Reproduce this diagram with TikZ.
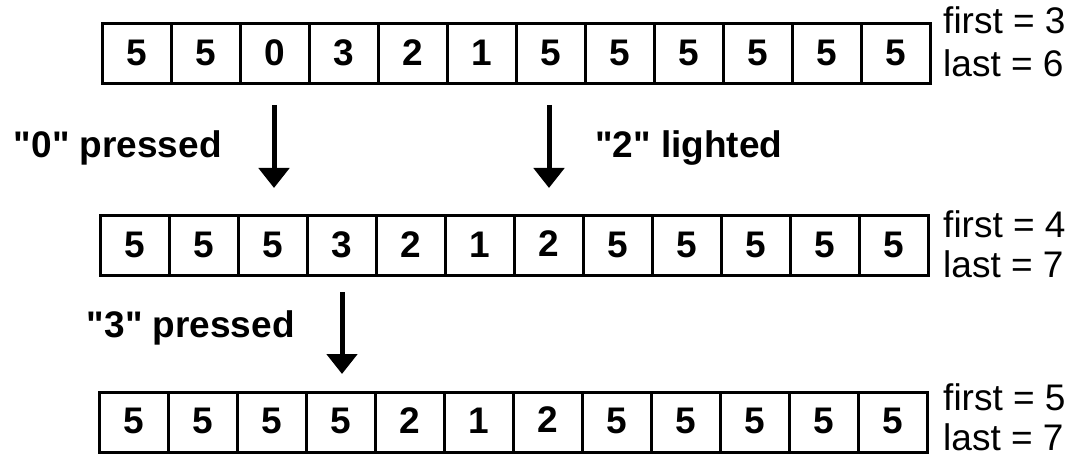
\documentclass[tikz,border=0pt]{standalone}
\usepackage{fontspec}
\setmainfont{Liberation Sans}
\usetikzlibrary{arrows.meta}
\begin{document}
\begin{tikzpicture}[x=1pt,y=-1pt,
  cell/.style={draw,line width=3pt,minimum width=69pt,minimum height=60pt,
    inner sep=0pt,font=\bfseries\fontsize{37}{37}\selectfont},
  lbl/.style={inner sep=0pt,font=\bfseries\fontsize{37}{37}\selectfont},
  info/.style={inner sep=0pt,anchor=base west,font=\fontsize{37}{37}\selectfont},
  arr/.style={line width=5pt,-{Triangle[width=30pt,length=20pt]}}]
\clip (0,0) rectangle (1075,457);
\fill[white] (0,0) rectangle (1075,457);

% three states of the array; the value in column 7 sits a little higher
\foreach \v [count=\i] in {5,5,0,3,2,1,5,5,5,5,5,5}
  \node[cell] (r1c\i) at ({102+69*(\i-0.5)},54) {\raisebox{2pt}{\v}};
\foreach \v [count=\i] in {5,5,5,3,2,1,2,5,5,5,5,5}
  \node[cell] (r2c\i) at ({100+69*(\i-0.5)},245.5)
    {\ifnum\i=7 \raisebox{3pt}{\v}\else\raisebox{1pt}{\v}\fi};
\foreach \v [count=\i] in {5,5,5,5,2,1,2,5,5,5,5,5}
  \node[cell] (r3c\i) at ({99+69*(\i-0.5)},422)
    {\ifnum\i=7 \raisebox{4pt}{\v}\else\raisebox{2pt}{\v}\fi};

% first / last markers
\node[info] (f1) at (943,34) {first = 3};
\node[info] (l1) at (943,77) {last = 6};
\node[info] (f2) at (943,237) {first = 4};
\node[info] (l2) at (943,277) {last = 7};
\node[info] (f3) at (943,410) {first = 5};
\node[info] (l3) at (943,450) {last = 7};

% transitions
\coordinate (a1s) at (274,105);
\coordinate (a1e) at (274,188);
\coordinate (a2s) at (549,105);
\coordinate (a2e) at (549,188);
\coordinate (a3s) at (342,292);
\coordinate (a3e) at (342,374);
\draw[arr] (a1s) -- (a1e);
\draw[arr] (a2s) -- (a2e);
\draw[arr] (a3s) -- (a3e);

\node[lbl,anchor=base east] (p0) at (222,158) {\textquotedbl 0\textquotedbl{} pressed};
\node[lbl,anchor=base west] (p2) at (595,158) {\textquotedbl 2\textquotedbl{} lighted};
\node[lbl,anchor=base east] (p3) at (295,337) {\textquotedbl 3\textquotedbl{} pressed};
\end{tikzpicture}
\end{document}
